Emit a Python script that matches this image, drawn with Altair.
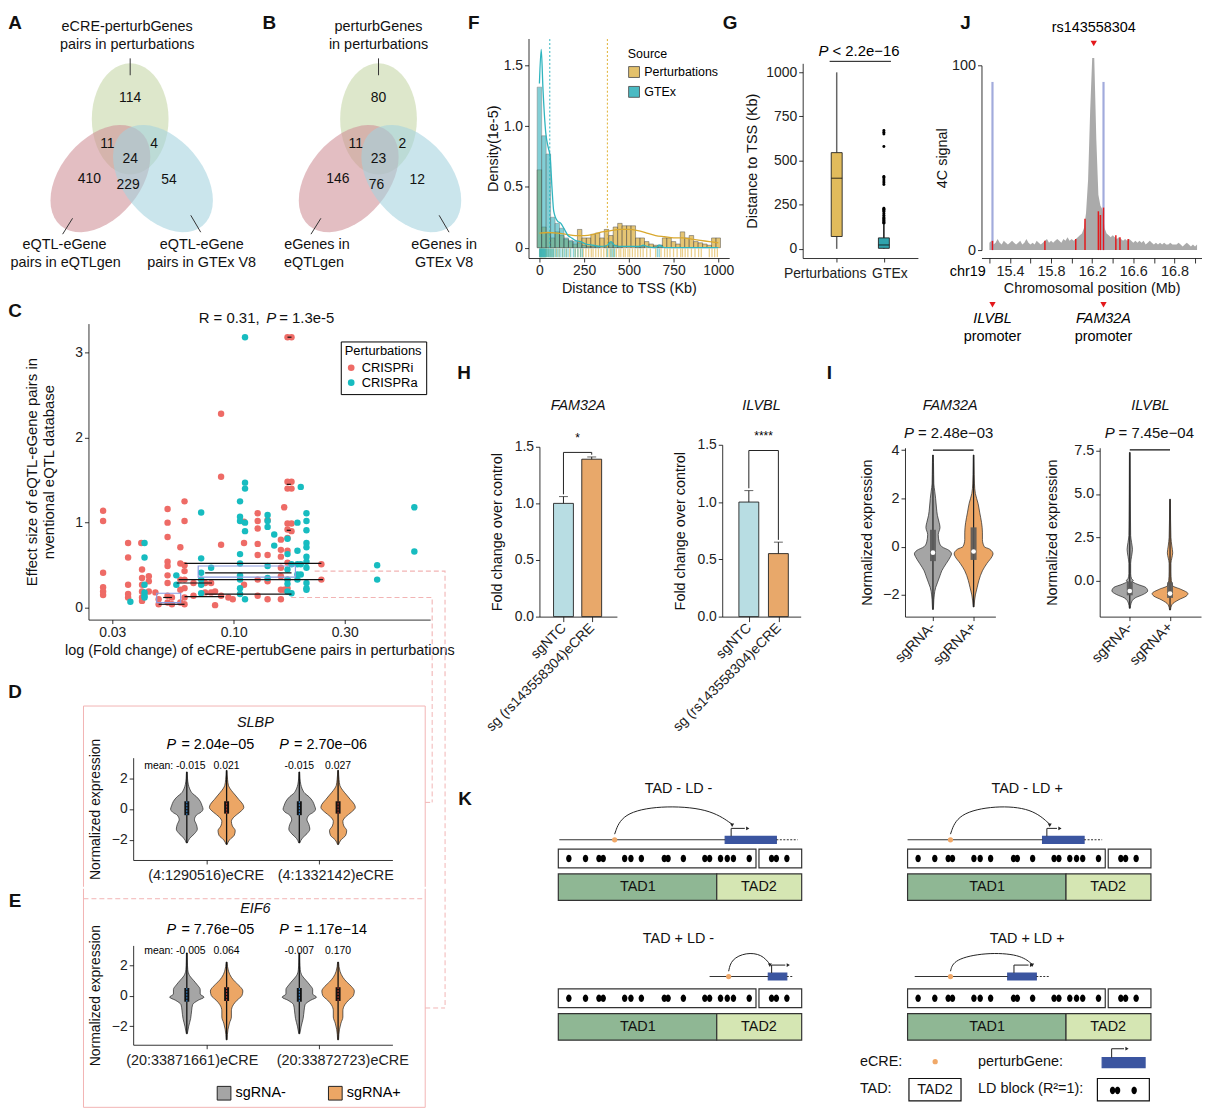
import math
import altair as alt
import pandas as pd

FONT = "Liberation Sans"
NARROW = "Liberation Sans Narrow, Liberation Sans"

# ============================ DATA ============================
VENN_A_COUNTS = ["114", "11", "4", "24", "410", "229", "54"]
VENN_B_COUNTS = ["80", "11", "2", "23", "146", "76", "12"]
VENN_A_LABELS = ["eCRE-perturbGenes", "pairs in perturbations", "eQTL-eGene",
                 "pairs in eQTLgen", "eQTL-eGene", "pairs in GTEx V8"]
VENN_B_LABELS = ["perturbGenes", "in perturbations", "eGenes in", "eQTLgen",
                 "eGenes in", "GTEx V8"]

F_BINS = [0, 25, 50, 75, 100, 125, 150, 175, 200, 225, 250, 275, 300, 325, 350,
          375, 400, 425, 450, 475, 500, 525, 550, 575, 600, 625, 650, 675, 700,
          725, 750, 775, 800, 825, 850, 875, 900, 925, 950, 975, 1000]
F_PERT = [0.64, 0.17, 0.12, 0.08, 0.13, 0.10, 0.07, 0.05, 0.03, 0.15,
          0.08, 0.08, 0.11, 0.12, 0.08, 0.15, 0.10, 0.17, 0.20, 0.18,
          0.18, 0.18, 0.08, 0.08, 0.05, 0.03, 0.02, 0.02, 0.08, 0.08,
          0.05, 0.03, 0.13, 0.08, 0.10, 0.05, 0.04, 0.03, 0.02, 0.08, 0.08]
F_GTEX = [1.32, 0.92, 0.77, 0.25, 0.20, 0.16, 0.08, 0.06, 0.05, 0.04,
          0.02, 0.01, 0.01, 0.01, 0.00, 0.01, 0.04, 0.02, 0.01, 0.00,
          0.00, 0.00, 0.01, 0.01, 0.00, 0.00, 0.01, 0.02, 0.00, 0.00,
          0.00, 0.00, 0.00, 0.00, 0.00, 0.00, 0.00, 0.00, 0.00, 0.00, 0.00]
F_DENS_P_X = [0, 50, 100, 150, 200, 250, 300, 350, 400, 450, 500, 550, 600,
              650, 700, 750, 800, 850, 900, 950, 1000]
F_DENS_P_Y = [0.12, 0.125, 0.12, 0.11, 0.10, 0.10, 0.11, 0.13, 0.14, 0.15, 0.15,
              0.14, 0.12, 0.10, 0.09, 0.08, 0.08, 0.07, 0.06, 0.05, 0.04]
F_DENS_G_X = [0, 10, 20, 35, 50, 60, 70, 80, 100, 120, 140, 160, 180, 200, 230,
              260, 300, 340, 380, 400, 420, 460, 560, 580, 600, 650, 670, 700, 1000]
F_DENS_G_Y = [1.35, 1.63, 1.30, 0.95, 0.82, 0.75, 0.50, 0.30, 0.22, 0.20, 0.15,
              0.10, 0.08, 0.06, 0.05, 0.03, 0.02, 0.01, 0.02, 0.05, 0.02, 0.01,
              0.01, 0.02, 0.01, 0.00, 0.02, 0.00, 0.00]
F_MEDIAN_GTEX = 58
F_MEDIAN_PERT = 380
F_RUG_P = [2, 5, 8, 12, 15, 20, 25, 30, 35, 40, 50, 60, 70, 80, 95, 110, 130, 150,
           170, 200, 215, 230, 245, 260, 275, 290, 300, 315, 330, 345, 360, 375,
           390, 400, 415, 430, 445, 455, 470, 480, 495, 505, 520, 535, 550, 565,
           580, 600, 620, 650, 680, 700, 715, 730, 750, 770, 790, 800, 815, 830,
           850, 870, 890, 905, 950, 965, 980, 995]
F_RUG_G = [1, 3, 5, 8, 10, 12, 15, 18, 20, 22, 25, 28, 30, 33, 36, 40, 45, 50, 55,
           60, 65, 70, 75, 80, 90, 100, 110, 120, 130, 140, 150, 160, 175, 190,
           200, 215, 230, 240, 380, 400, 410, 420, 660, 670]

G_GROUPS = ["Perturbations", "GTEx"]
G_LO = [0, 0]
G_Q1 = [70, 3]
G_MED = [400, 22]
G_Q3 = [545, 62]
G_HI = [1000, 140]
G_OUT = [145, 150, 155, 160, 165, 170, 175, 180, 190, 200, 210, 215, 220, 225,
         230, 365, 375, 385, 395, 405, 410, 580, 650, 660, 670]

J_START = 15.20
J_SIGNAL = [4, 5, 3, 4, 6, 4, 3, 5, 4, 3, 4,
            5, 4, 3, 4, 5, 3, 4, 6, 4, 3,
            4, 3, 5, 4, 3, 4, 5, 6, 4, 5,
            4, 5, 6, 5, 4, 6, 5, 7, 5, 6,
            5, 6, 7, 8, 9,
            12, 20, 38, 75, 104,
            104, 60, 30, 24, 22,
            12, 9, 8, 7, 8,
            7, 6, 7, 6, 5, 6, 5, 6, 5, 4,
            5, 4, 5, 4, 5, 3, 4, 5, 4, 3,
            4, 3, 4, 3, 4, 3, 3, 4, 3, 3,
            3, 4, 3, 2, 3, 4, 3, 2, 3, 2, 3]
J_RED_X = [15.23, 15.74, 16.04, 16.13, 16.26, 16.28, 16.31, 16.43, 16.47, 16.55]
J_RED_H = [5, 5, 6, 17, 21, 19, 23, 8, 7, 6]
J_BLUE_X = [15.23, 16.31]
J_BLUE_H = [91, 91]
J_TICKS = [15.2, 15.4, 15.6, 15.8, 16.0, 16.2, 16.4, 16.6, 16.8, 17.0, 17.2]
J_TICK_LABELS = ["", "15.4", "", "15.8", "", "16.2", "", "16.6", "", "16.8", ""]
J_SNP = ["rs143558304"]
J_SNP_X = [16.215]
J_PROM_GENES = ["ILVBL", "FAM32A"]
J_PROM_X = [15.23, 16.31]

C_I_X = [0.0274, 0.0274, 0.0274, 0.0274, 0.0274, 0.0274,
         0.0351, 0.0351, 0.0351, 0.0351, 0.0351,
         0.0400, 0.0403, 0.0403, 0.0403, 0.0403, 0.0403, 0.0403,
         0.0431, 0.0431, 0.0431,
         0.0460, 0.0475, 0.0475,
         0.0519, 0.0519, 0.0519, 0.0519, 0.0519, 0.0519, 0.0519, 0.0519, 0.0519,
         0.0542, 0.0542,
         0.0589, 0.0589, 0.0589, 0.0589, 0.0589,
         0.0614, 0.0614, 0.0614, 0.0614, 0.0614, 0.0614, 0.0614, 0.0614,
         0.0671, 0.0671, 0.0753, 0.0753, 0.0799, 0.0799, 0.0831, 0.0831,
         0.0882, 0.0882, 0.0882, 0.0882, 0.0948, 0.0990,
         0.1107, 0.1107, 0.1107,
         0.1267, 0.1267, 0.1267, 0.1267, 0.1267, 0.1267, 0.1267,
         0.1398, 0.1398, 0.1398, 0.1398,
         0.1595, 0.1595, 0.1595, 0.1595, 0.1595, 0.1595, 0.1595,
         0.1648, 0.1648,
         0.1703, 0.1703, 0.1703, 0.1703, 0.1703, 0.1703, 0.1703, 0.1703, 0.1703,
         0.1772, 0.1772, 0.1772, 0.1772, 0.1703, 0.1772,
         0.2382, 0.2382]
C_I_Y = [1.14, 1.02, 0.41, 0.24, 0.19, 0.15,
         0.76, 0.59, 0.27, 0.16, 0.12,
         0.76, 0.45, 0.35, 0.27, 0.19, 0.12, 0.08,
         0.37, 0.31, 0.19,
         0.18, 0.04, 0.10,
         1.16, 1.00, 0.83, 0.54, 0.49, 0.38, 0.29, 0.14, 0.06,
         0.04, 0.12,
         0.71, 0.52, 0.33, 0.21, 0.06,
         1.25, 1.02, 0.50, 0.43, 0.33, 0.23, 0.12, 0.04,
         0.14, 0.29, 0.18, 0.29, 0.29, 0.18, 0.03, 0.19,
         2.28, 1.54, 0.74, 0.14, 0.12, 0.10,
         1.01, 0.76, 0.27,
         1.11, 1.02, 0.93, 0.75, 0.62, 0.33, 0.14,
         1.03, 0.62, 0.31, 0.10,
         0.10, 0.21, 0.37, 0.47, 0.60, 0.68, 0.80,
         1.18, 0.21,
         1.48, 1.40, 0.99, 0.92, 0.82, 0.67, 0.53, 0.33, 0.23,
         1.48, 1.40, 0.99, 0.90, 3.18, 3.18,
         0.51, 0.33]
C_A_X = [0.0359,
         0.0413, 0.0413, 0.0413, 0.0413, 0.0413, 0.0413,
         0.0566, 0.0566,
         0.0724, 0.0724, 0.0724, 0.0724, 0.0724, 0.0724,
         0.0799,
         0.1064, 0.1064, 0.1064, 0.1064, 0.1064, 0.1064, 0.1064, 0.1064, 0.1064,
         0.1118, 0.1118, 0.1118, 0.1118, 0.1118, 0.1118,
         0.1398, 0.1398, 0.1398, 0.1398, 0.1398,
         0.1493, 0.1493,
         0.1703, 0.1703, 0.1703, 0.1703, 0.1703, 0.1703,
         0.1772, 0.1772,
         0.1879, 0.1879, 0.1879, 0.1879, 0.1879,
         0.1942, 0.1942, 0.1942,
         0.2055, 0.2055, 0.2055, 0.2055, 0.2055, 0.2055, 0.2055, 0.2055, 0.2055,
         0.2055, 0.2055,
         0.4140, 0.4140,
         0.5984, 0.5984]
C_A_Y = [0.07,
         0.76, 0.59, 0.27, 0.18, 0.14, 0.12,
         0.38, 0.27,
         1.12, 0.58, 0.41, 0.33, 0.27, 0.17,
         0.47,
         1.25, 1.07, 1.02, 0.63, 0.52, 0.38, 0.33, 0.23, 0.16,
         3.18, 1.47, 1.40, 1.00, 0.90, 0.10,
         1.09, 1.02, 0.95, 0.49, 0.35,
         0.86, 0.73,
         0.81, 0.63, 0.45, 0.33, 0.28, 0.19,
         0.51, 0.17,
         1.00, 0.67, 0.51, 0.39, 0.33,
         1.42, 0.51, 0.39,
         1.11, 1.02, 0.91, 0.76, 0.71, 0.60, 0.54, 0.47, 0.29, 0.23, 0.21,
         0.50, 0.33,
         1.18, 0.66]
C_SEG_X1 = [0.0614, 0.0753, 0.0579, 0.0568, 0.0753, 0.0614, 0.0497, 0.0475, 0.1703, 0.1690, 0.1690]
C_SEG_X2 = [0.2382, 0.1772, 0.2420, 0.0806, 0.1772, 0.0909, 0.0542, 0.0614, 0.1772, 0.1760, 0.1760]
C_SEG_Y = [0.52, 0.41, 0.33, 0.29, 0.16, 0.13, 0.12, 0.04, 3.18, 1.45, 0.91]
C_BOX_X1 = [0.0703, 0.0466]
C_BOX_X2 = [0.1842, 0.0591]
C_BOX_Y1 = [0.36, 0.06]
C_BOX_Y2 = [0.49, 0.17]
C_LINK_X = [[0.2228, 0.811, 0.811], [0.1767, 0.714, 0.714]]
C_LINK_Y = [[0.43, 0.43, -0.806], [0.12, 0.12, -0.806]]

H_GENES = ["FAM32A", "ILVBL"]
H_XLABELS = ["sgNTC", "sg (rs143558304)eCRE"]
H_MEAN = [[1.00, 1.39], [1.00, 0.55]]
H_ERR = [[0.06, 0.02], [0.10, 0.10]]
H_SIG = ["*", "****"]

I_GENES = ["FAM32A", "ILVBL"]
I_PVALS = ["= 2.48e\u221203", "= 7.45e\u221204"]
I_FAM_Y = [[-2.6, -2.2, -2.0, -1.7, -1.5, -1.2, -1.0, -0.7, -0.4, -0.3, -0.15, 0.0, 0.2,
            0.5, 0.8, 1.0, 1.3, 1.6, 2.0, 2.3, 2.6, 3.0, 3.5, 3.8],
           [-2.5, -2.0, -1.7, -1.4, -1.0, -0.7, -0.4, -0.3, -0.1, 0.0, 0.3, 0.6, 1.0,
            1.4, 1.8, 2.2, 2.6, 3.0, 3.8]]
I_FAM_W = [[0.5, 1, 1.5, 3, 5, 8, 10, 15, 20, 21, 18, 10, 7, 6, 8, 7, 5, 4, 3, 2, 1, 0.8, 0.6, 0.4],
           [0.5, 2, 4, 6, 10, 15, 21, 22, 18, 12, 10, 10, 9, 7, 5, 2, 1, 0.7, 0.4]]
I_FAM_BOX = [[-0.6, 0.7, -0.25], [-0.55, 0.8, -0.2]]
I_ILV_Y = [[-1.6, -1.3, -1.0, -0.8, -0.6, -0.4, -0.2, -0.05, 0.0, 0.1, 0.4, 1.0, 1.4,
            1.8, 2.2, 2.6, 3.5, 5.0, 7.4],
           [-1.7, -1.4, -1.1, -0.9, -0.75, -0.5, -0.3, 0.0, 0.5, 1.0, 1.3, 1.6, 2.0,
            2.5, 3.5, 4.7]]
I_ILV_W = [[0.5, 1.5, 6, 15, 20, 18, 8, 3, 4, 2, 1, 1, 2, 3, 2, 1, 0.8, 0.6, 0.4],
           [0.5, 2, 10, 18, 20, 12, 3, 1.5, 1, 1, 2, 3, 2, 1, 0.6, 0.4]]
I_ILV_BOX = [[-0.85, -0.05, -0.6], [-1.0, -0.1, -0.75]]

DE_CONDS = ["sgRNA-", "sgRNA+", "sgRNA-", "sgRNA+"]
D_GENE = "SLBP"
D_LABELS = ["(4:1290516)eCRE", "(4:1332142)eCRE"]
D_PVALS = ["= 2.04e\u221205", "= 2.70e\u221206"]
D_MEANS = ["mean: -0.015", "0.021", "-0.015", "0.027"]
D_Y = [[-2.2, -1.9, -1.6, -1.3, -1.0, -0.7, -0.4, -0.2, 0.0, 0.2, 0.5, 0.8, 1.0, 1.3, 1.6, 2.0, 2.4],
       [-2.3, -2.0, -1.7, -1.4, -1.1, -0.8, -0.5, -0.2, 0.1, 0.3, 0.6, 0.9, 1.2, 1.5, 1.9, 2.5]]
D_W = [[0.5, 3, 8, 11, 10, 8, 10, 15, 17, 16, 14, 10, 6, 3, 1.5, 0.7, 0.4],
       [0.5, 3, 8, 9, 6, 5, 8, 14, 18, 17, 13, 9, 5, 2, 1, 0.4]]
D_BOX = [[-0.4, 0.5], [-0.3, 0.5]]
E_GENE = "EIF6"
E_LABELS = ["(20:33871661)eCRE", "(20:33872723)eCRE"]
E_PVALS = ["= 7.76e\u221205", "= 1.17e\u221214"]
E_MEANS = ["mean: -0.005", "0.064", "-0.007", "0.170"]
E_Y = [[-2.5, -2.0, -1.5, -1.0, -0.6, -0.3, -0.1, 0.1, 0.4, 0.7, 1.0, 1.3, 1.7, 2.2, 2.8],
       [-2.9, -2.2, -1.8, -1.4, -1.0, -0.6, -0.3, 0.0, 0.3, 0.6, 0.9, 1.2, 1.6, 2.2]]
E_W = [[0.5, 2, 4, 5, 6, 12, 18, 14, 14, 11, 7, 3, 1, 0.6, 0.4],
       [0.5, 1.5, 3, 5, 5, 7, 11, 16, 17, 14, 9, 5, 2, 0.5]]
E_BOX = [[-0.4, 0.5], [-0.35, 0.55]]

K_TITLES = ["TAD -  LD -", "TAD -  LD +", "TAD + LD -", "TAD +  LD +"]
K_TITLE_X = [674, 1025, 674, 1025]
K_TITLE_Y = [791, 791, 942, 942]
K_X0 = [553, 904.6, 553, 904.6]
K_LINE_Y = [841.7, 841.7, 979.3, 979.3]
K_LD_TOP = [851, 851, 991.7, 991.7]
K_TAD_TOP = [876, 876, 1016.7, 1016.7]
K_LD_DOTS = [10.6, 27.4, 40.9, 45.2, 66.8, 73.1, 83.6, 106.7, 110.5, 125.9, 147.5,
             152.3, 163.3, 170.1, 176.3, 192.2, 214.7, 219.5, 230.1]
K_LINE_X0 = [554, 904.6, 705.3, 911.8]
K_LINE_X1 = [794, 1100.5, 789, 1047.7]
K_ECRE_X = [609.7, 947.8, 724.5, 947.8]
K_GENE_X0 = [721, 1040.5, 764.4, 1005.4]
K_GENE_X1 = [772.5, 1082.3, 783, 1034.2]
K_PROM_X0 = [727, 1044.8, 767.7, 1011.7]
K_PROM_X1 = [743.7, 1058, 784.5, 1029.4]
K_ARC_X = [[609.7, 617, 655, 705, 728], [947.8, 955, 993, 1030, 1047.7],
           [724.5, 727, 742, 758, 766], [947.8, 951, 983, 1018, 1030]]
K_ARC_Y = [[836, 815, 807, 810, 826], [836, 815, 807, 810, 826],
           [974, 962, 955, 957, 967], [974, 962, 955, 957, 967]]

# ============================ STYLE ============================
GOLD = "#e1bb5c"
TEAL = "#37b3bd"
C_RED = "#ee6b66"
C_TEAL = "#17bcc0"
V_GREY = "#a5a5a5"
V_ORANGE = "#eca665"
H_BLUE = "#b8dde3"
H_ORANGE = "#e8a86a"
VENN_COLS = ["#c4d6a6", "#cf8f96", "#a3d3de"]
TAD1_COL = "#8fb794"
TAD2_COL = "#d5e6b3"
GENE_COL = "#3b55a0"
ECRE_COL = "#f0a868"
PINK = "#f2b4b4"


def ellipse_path(ratio, angle_deg, n=48):
    th = math.radians(angle_deg)
    pts = []
    for i in range(n):
        t = 2 * math.pi * i / n
        x, y = math.cos(t), ratio * math.sin(t)
        pts.append(f"{x * math.cos(th) - y * math.sin(th):.4f},{x * math.sin(th) + y * math.cos(th):.4f}")
    return "M" + " L".join(pts) + " Z"


ONE = pd.DataFrame({"a": [0]})


def ax(**kw):
    d = dict(domainColor="#000000", domainWidth=0.8, tickColor="#000000", tickWidth=0.8,
             tickSize=4, labelFont=FONT, labelFontSize=13, labelColor="#222222",
             titleFont=FONT, titleFontSize=14, titleFontWeight="normal", titleColor="#111111",
             grid=False, labelPadding=2)
    d.update(kw)
    return alt.Axis(**d)


def qs(lo, hi, rng, **kw):
    return alt.Scale(domain=[lo, hi], range=list(rng), nice=False, zero=False, **kw)


def T(text, x, y, size=13, weight="normal", style="normal", align="center",
      font=FONT, color="#111111"):
    return alt.Chart(ONE).mark_text(text=text, x=x, y=y, fontSize=size, fontWeight=weight,
                                    fontStyle=style, align=align, font=font,
                                    color=color).encode(opacity=alt.value(1))


def frame(w, h):
    """Invisible rectangle = the panel's cell; the view origin is its top-left corner."""
    return alt.Chart(ONE).mark_rect(opacity=0).encode(
        x=alt.value(0), x2=alt.value(w), y=alt.value(0), y2=alt.value(h))


def prule(x, x2, y, y2, dash=None):
    kw = dict(color=PINK, strokeWidth=1)
    if dash:
        kw["strokeDash"] = dash
    return alt.Chart(ONE).mark_rule(**kw).encode(
        x=alt.value(x), x2=alt.value(x2), y=alt.value(y), y2=alt.value(y2))


RES = dict(color="independent", fill="independent", stroke="independent", size="independent")


def HC(*c):
    return alt.hconcat(*c, spacing=0).resolve_scale(**RES)


def VC(*c):
    return alt.vconcat(*c, spacing=0).resolve_scale(**RES)


def expr_map(values, labels):
    parts = [f"abs(datum.value - {v}) < 0.001 ? '{l}'" for v, l in zip(values, labels)]
    return " : ".join(parts) + " : ''"


# ============================ A / B ============================
VENN_CNT_X = [123, 100, 147, 123, 82, 121, 162]
VENN_CNT_Y = [87, 133, 133, 148, 168, 175, 169]
VENN_ELL_X = [123, 93, 156]
VENN_ELL_Y = [108, 168, 168]
VENN_ELL_LEN = [112, 124, 124]
VENN_ELL_RATIO = [0.69, 0.645, 0.645]
VENN_ELL_ANG = [90, 310, 50]
VENN_LAB_Y = [15, 34, 235, 253, 235, 253]
VENN_LEAD = [(123, 47, 123, 64), (65, 208, 55, 224), (184, 205, 194, 222)]


def venn_panel(letter, letter_x, counts, labels, lab_x, fw, extra=()):
    fh = 292
    xs = qs(0, fw, (0, fw))
    ys = qs(0, fh, (0, fh))
    X = lambda f: alt.X(f + ":Q", scale=xs, axis=None)
    Y = lambda f: alt.Y(f + ":Q", scale=ys, axis=None)
    ells = []
    for i in range(3):
        d = pd.DataFrame({"x": [VENN_ELL_X[i]], "y": [VENN_ELL_Y[i]]})
        ells.append(alt.Chart(d).mark_point(
            shape=ellipse_path(VENN_ELL_RATIO[i], VENN_ELL_ANG[i]), filled=True, opacity=0.58,
            strokeWidth=0, color=VENN_COLS[i], size=VENN_ELL_LEN[i] ** 2).encode(x=X("x"), y=Y("y")))
    cnt = pd.DataFrame({"x": VENN_CNT_X, "y": VENN_CNT_Y, "t": counts})
    c = alt.Chart(cnt).mark_text(font=FONT, fontSize=14, color="#111111").encode(
        x=X("x"), y=Y("y"), text="t:N")
    lab = pd.DataFrame({"x": lab_x, "y": VENN_LAB_Y, "t": labels})
    l = alt.Chart(lab).mark_text(font=FONT, fontSize=14.5, color="#111111").encode(
        x=X("x"), y=Y("y"), text="t:N")
    lead = pd.DataFrame(VENN_LEAD, columns=["x", "y", "x2", "y2"])
    r = alt.Chart(lead).mark_rule(color="#333333", strokeWidth=1).encode(
        x=X("x"), y=Y("y"), x2="x2", y2="y2")
    return alt.layer(frame(fw, fh), *ells, r, c, l,
                     T(letter, letter_x, 11, size=19, weight="bold"), *extra).properties(
        width=fw, height=fh)


panelA = venn_panel("A", 7, VENN_A_COUNTS, VENN_A_LABELS, [120, 120, 57, 58, 195, 195], 241)
panelB = venn_panel("B", 13, VENN_B_COUNTS, VENN_B_LABELS, [123, 123, 61, 58, 189, 189], 226,
                    extra=(T("F", 219, 11, size=19, weight="bold"),))

# ============================ F ============================ (L48 T27 W202 H221, cell 260x344)
fxs = qs(-61, 1061, (48, 250))
fys = qs(-0.085, 1.72, (248, 27))
FXA = ax(values=[0, 250, 500, 750, 1000], format="d", title="Distance to TSS (Kb)", labelFontSize=14,
         titleFontSize=14.5, titlePadding=4, offset=-96)
FYA = ax(values=[0, 0.5, 1, 1.5], labelExpr="datum.value == 0 ? '0' : format(datum.value, '.1f')",
         title="Density(1e-5)", labelFontSize=14, titleFontSize=14.5, titlePadding=3, offset=-48)
FX = lambda f: alt.X(f + ":Q", scale=fxs, axis=FXA)
FY = lambda f: alt.Y(f + ":Q", scale=fys, axis=FYA)
src_scale = alt.Scale(domain=["Perturbations", "GTEx"], range=[GOLD, TEAL])
f_leg = alt.Legend(title="Source", orient="none", legendX=148, legendY=37, symbolType="square",
                   symbolSize=120, symbolStrokeColor="#333333", symbolStrokeWidth=0.8,
                   labelFont=FONT, titleFont=FONT, labelFontSize=12.5, titleFontSize=12.5,
                   titleFontWeight="normal", rowPadding=5, symbolOpacity=0.9, titlePadding=5)


def f_bars(vals, src, op):
    df = pd.DataFrame({"c": F_BINS, "h": vals, "src": [src] * len(F_BINS)})
    return alt.Chart(df).transform_filter("datum.h > 0").transform_calculate(
        x0="datum.c - 12.5", x1="datum.c + 12.5", b="0").mark_bar(
        stroke="#333333", strokeWidth=0.5, opacity=op).encode(
        x=FX("x0"), x2="x1", y=FY("b"), y2="h",
        color=alt.Color("src:N", scale=src_scale, legend=f_leg))


def f_line(xv, yv, col):
    return alt.Chart(pd.DataFrame({"x": xv, "y": yv})).mark_line(
        color=col, strokeWidth=1.3, interpolate="monotone").encode(x=FX("x"), y=FY("y"))


def f_vline(xv, col):
    return alt.Chart(pd.DataFrame({"x": [xv]})).transform_calculate(y0="0", y1="1.72").mark_rule(
        color=col, strokeDash=[2, 2], strokeWidth=1).encode(x=FX("x"), y=FY("y0"), y2="y1")


def f_rug(xv, col):
    return alt.Chart(pd.DataFrame({"x": xv})).transform_calculate(
        r0="-0.078", r1="-0.006").mark_rule(color=col, strokeWidth=1.3, opacity=0.55).encode(
        x=FX("x"), y=FY("r0"), y2="r1")


panelF = alt.layer(
    frame(260, 344),
    f_bars(F_PERT, "Perturbations", 0.85), f_bars(F_GTEX, "GTEx", 0.62),
    f_line(F_DENS_P_X, F_DENS_P_Y, "#d9a82e"), f_line(F_DENS_G_X, F_DENS_G_Y, "#2fb5bf"),
    f_vline(F_MEDIAN_GTEX, "#2fb5bf"), f_vline(F_MEDIAN_PERT, "#e0b030"),
    f_rug(F_RUG_P, "#d9a82e"), f_rug(F_RUG_G, "#2fb5bf"),
    T("G", 251, 11, size=19, weight="bold")
).properties(width=260, height=344)

# ============================ G ============================ (L64 T52 W116 H196, cell 190x344)
gxs = qs(0.384, 2.616, (64, 180))
gys = qs(-52, 1051, (248, 52))
GXA = ax(values=[1, 2], labels=False, title=None, offset=-96)
GYA = ax(values=[0, 250, 500, 750, 1000], format="d", title="Distance to TSS (Kb)", labelFontSize=14,
         titleFontSize=14.5, titlePadding=6, offset=-64)
GX = lambda f: alt.X(f + ":Q", scale=gxs, axis=GXA)
GY = lambda f: alt.Y(f + ":Q", scale=gys, axis=GYA)
gdf = pd.DataFrame({"x": [1, 2], "lo": G_LO, "q1": G_Q1, "med": G_MED, "q3": G_Q3, "hi": G_HI,
                    "col": [GOLD, "#2fa3ad"], "wc": ["#666666", "#111111"]})
g_w1 = alt.Chart(gdf).mark_rule(strokeWidth=1.5).encode(
    x=GX("x"), y=GY("lo"), y2="q1", color=alt.Color("wc:N", scale=None))
g_w2 = alt.Chart(gdf).mark_rule(strokeWidth=1.5).encode(
    x=GX("x"), y=GY("q3"), y2="hi", color=alt.Color("wc:N", scale=None))
g_box = alt.Chart(gdf).mark_bar(size=11, stroke="#222222", strokeWidth=0.9).encode(
    x=GX("x"), y=GY("q1"), y2="q3", fill=alt.Fill("col:N", scale=None))
g_med = alt.Chart(gdf).mark_tick(orient="horizontal", size=11, thickness=1.2, color="#111111").encode(
    x=GX("x"), y=GY("med"))
g_out = alt.Chart(pd.DataFrame({"x": [2] * len(G_OUT), "y": G_OUT})).mark_circle(
    size=9, color="#000000", opacity=1).encode(x=GX("x"), y=GY("y"))
g_line = alt.Chart(pd.DataFrame({"x": [0.85], "x2": [2.15]})).mark_rule(
    color="#111111", strokeWidth=1).encode(x=GX("x"), x2="x2", y=alt.value(50))
g_p = alt.Chart(pd.DataFrame({"x": [1.5]})).mark_text(
    text="P", fontStyle="italic", align="left", dx=-42, fontSize=15, font=FONT).encode(
    x=GX("x"), y=alt.value(40))
g_p2 = alt.Chart(pd.DataFrame({"x": [1.5], "t": ["< 2.2e\u221216"]})).mark_text(
    align="left", dx=-28, fontSize=15, font=FONT).encode(x=GX("x"), y=alt.value(40), text="t:N")
g_lab1 = alt.Chart(pd.DataFrame({"x": [1], "t": [G_GROUPS[0]]})).mark_text(
    align="right", dx=30, fontSize=14, font=FONT, color="#222222").encode(
    x=GX("x"), y=alt.value(264), text="t:N")
g_lab2 = alt.Chart(pd.DataFrame({"x": [2], "t": [G_GROUPS[1]]})).mark_text(
    align="center", dx=6, fontSize=14, font=FONT, color="#222222").encode(
    x=GX("x"), y=alt.value(264), text="t:N")
panelG = alt.layer(frame(190, 344), g_w1, g_w2, g_box, g_med, g_out, g_line, g_p,
                   g_p2, g_lab1, g_lab2).properties(width=190, height=344)

# ============================ J ============================ (L54 T54 W222, 0..100 -> y 240..54)
jxs = qs(15.123, 17.268, (54, 276))
jys = qs(0, 100, (240, 54))
JXA = ax(values=J_TICKS, labelExpr=expr_map(J_TICKS, J_TICK_LABELS),
         title="Chromosomal position (Mb)", labelFontSize=14.5, titleFontSize=14.5,
         tickSize=5, titlePadding=3, offset=-96)
JYA = ax(values=[0, 100], title="4C signal", labelFontSize=14.5, titleFontSize=14.5, titlePadding=2,
         offset=-54)
JX = lambda f: alt.X(f + ":Q", scale=jxs, axis=JXA)
JY = lambda f: alt.Y(f + ":Q", scale=jys, axis=JYA)
jdf = pd.DataFrame({"i": list(range(len(J_SIGNAL))), "y": J_SIGNAL})
j_area = alt.Chart(jdf).transform_calculate(
    x=f"{J_START} + 0.02 * datum.i", b="0").mark_area(color="#aaaaaa", opacity=1).encode(
    x=JX("x"), y=JY("y"), y2="b")
j_blue = alt.Chart(pd.DataFrame({"x": J_BLUE_X, "h": J_BLUE_H})).transform_calculate(b="0").mark_rule(
    color="#98a2d8", strokeWidth=2.2, opacity=0.9).encode(x=JX("x"), y=JY("b"), y2="h")
j_red = alt.Chart(pd.DataFrame({"x": J_RED_X, "h": J_RED_H})).transform_calculate(b="0").mark_rule(
    color="#e3191c", strokeWidth=1.5).encode(x=JX("x"), y=JY("b"), y2="h")
j_tri1 = alt.Chart(pd.DataFrame({"x": J_SNP_X})).mark_point(
    shape="triangle-down", filled=True, color="#e3191c", size=40, opacity=1).encode(
    x=JX("x"), y=alt.value(32))
j_snp = alt.Chart(pd.DataFrame({"x": J_SNP_X, "t": J_SNP})).mark_text(
    fontSize=14.5, font=FONT).encode(x=JX("x"), y=alt.value(16), text="t:N")
j_tri2 = alt.Chart(pd.DataFrame({"x": J_PROM_X})).mark_point(
    shape="triangle-down", filled=True, color="#e3191c", size=40, opacity=1).encode(
    x=JX("x"), y=alt.value(295))
j_gene = alt.Chart(pd.DataFrame({"x": J_PROM_X, "t": J_PROM_GENES})).mark_text(
    fontSize=14.5, font=FONT, fontStyle="italic").encode(x=JX("x"), y=alt.value(309), text="t:N")
j_prom = alt.Chart(pd.DataFrame({"x": J_PROM_X, "t": ["promoter", "promoter"]})).mark_text(
    fontSize=14.5, font=FONT).encode(x=JX("x"), y=alt.value(328), text="t:N")
j_chr = alt.Chart(pd.DataFrame({"x": [14.99], "t": ["chr19"]})).mark_text(
    fontSize=14.5, font=FONT).encode(x=JX("x"), y=alt.value(262), text="t:N")
panelJ = alt.layer(frame(276, 344), j_area, j_blue, j_red, j_tri1, j_snp, j_tri2,
                   j_gene, j_prom, j_chr,
                   T("J", 38, 11, size=19, weight="bold")).properties(width=276, height=344)

# ============================ C ============================ (L81 T22 W344 H298, cell 467x377)
cxs = alt.Scale(type="log", domain=[0.0237, 0.70], range=[81, 425], nice=False)
cys = qs(-0.14, 3.34, (320, 22))
CXA = ax(values=[0.03, 0.1, 0.3], labelExpr="format(datum.value, '.2f')",
         title="log (Fold change) of eCRE-pertubGene pairs in perturbations",
         labelFontSize=14, titleFontSize=14.5, titlePadding=4, offset=-57)
CYA = ax(values=[0, 1, 2, 3], title=["Effect size of eQTL-eGene pairs in", "nventional eQTL database"],
         labelFontSize=14, titleFontSize=15, titlePadding=18, titleLineHeight=18, offset=-81)
CX = lambda f: alt.X(f + ":Q", scale=cxs, axis=CXA)
CY = lambda f: alt.Y(f + ":Q", scale=cys, axis=CYA)
cdf = pd.DataFrame({"x": C_I_X + C_A_X, "y": C_I_Y + C_A_Y,
                    "type": ["CRISPRi"] * len(C_I_X) + ["CRISPRa"] * len(C_A_X)})
c_leg = alt.Legend(title="Perturbations", orient="none", legendX=335, legendY=40,
                   strokeColor="#000000", padding=4, symbolType="circle", symbolSize=45,
                   labelFontSize=13, titleFontSize=13, titleFontWeight="normal", labelFont=FONT,
                   titleFont=FONT, rowPadding=1, fillColor="#ffffff", symbolOpacity=1,
                   titlePadding=3)
c_pts = alt.Chart(cdf).mark_circle(size=42, opacity=1).encode(
    x=CX("x"), y=CY("y"),
    color=alt.Color("type:N", scale=alt.Scale(domain=["CRISPRi", "CRISPRa"], range=[C_RED, C_TEAL]),
                    legend=c_leg))
c_seg = alt.Chart(pd.DataFrame({"x": C_SEG_X1, "x2": C_SEG_X2, "y": C_SEG_Y})).mark_rule(
    color="#111111", strokeWidth=1.2).encode(x=CX("x"), x2="x2", y=CY("y"))
c_box = alt.Chart(pd.DataFrame({"x": C_BOX_X1, "x2": C_BOX_X2, "y": C_BOX_Y1, "y2": C_BOX_Y2})).mark_rect(
    fillOpacity=0, stroke="#8a9be0", strokeWidth=1.2).encode(x=CX("x"), x2="x2", y=CY("y"), y2="y2")
link_rows = []
for k, (lx, ly) in enumerate(zip(C_LINK_X, C_LINK_Y)):
    for o, (xv, yv) in enumerate(zip(lx, ly)):
        link_rows.append({"id": k, "o": o, "x": xv, "y": yv})
c_link = alt.Chart(pd.DataFrame(link_rows)).mark_line(
    color=PINK, strokeDash=[5, 3], strokeWidth=1.1).encode(
    x=CX("x"), y=CY("y"), detail="id:N", order="o:Q")
panelC = alt.layer(frame(467, 377), c_link, c_pts, c_seg, c_box,
                   T("R = 0.31,", 192, 16, size=15, align="left"),
                   T("P", 260, 16, size=15, style="italic", align="left"),
                   T("= 1.3e-5", 273, 16, size=15, align="left"),
                   T("C", 7, 9, size=19, weight="bold"),
                   T("H", 459, 72, size=19, weight="bold")).properties(width=467, height=377)


# ============================ H ============================
def h_panel(k, L, Tp, w, h, fw, fh, xdom, top_off):
    xs = qs(xdom[0], xdom[1], (L, L + w))
    ys = qs(0, 1.5, (Tp + h, Tp))
    XA = ax(values=[1, 2], labelExpr=f"datum.value == 1 ? '{H_XLABELS[0]}' : '{H_XLABELS[1]}'",
            labelAngle=315, labelAlign="right", labelBaseline="middle", title=None,
            labelFontSize=14, tickSize=5, labelPadding=4, offset=Tp + h - fh)
    YA = ax(values=[0, 0.5, 1.0, 1.5], format=".1f", title="Fold change over control",
            labelFontSize=14, titleFontSize=14.5, titlePadding=10, offset=-L)
    X = lambda f: alt.X(f + ":Q", scale=xs, axis=XA)
    Y = lambda f: alt.Y(f + ":Q", scale=ys, axis=YA)
    df = pd.DataFrame({"x": [1, 2], "v": H_MEAN[k], "e": H_ERR[k], "col": [H_BLUE, H_ORANGE]})
    bars = alt.Chart(df).transform_calculate(b="0").mark_bar(
        size=20, stroke="#222222", strokeWidth=0.9).encode(
        x=X("x"), y=Y("b"), y2="v", fill=alt.Fill("col:N", scale=None))
    err = alt.Chart(df).transform_calculate(t="datum.v + datum.e").mark_rule(
        color="#222222", strokeWidth=1).encode(x=X("x"), y=Y("v"), y2="t")
    cap = alt.Chart(df).transform_calculate(t="datum.v + datum.e").mark_tick(
        orient="horizontal", size=9, thickness=1, color="#222222").encode(x=X("x"), y=Y("t"))
    tops = [H_MEAN[k][i] + H_ERR[k][i] + 0.02 for i in range(2)]
    br_y = 1.45
    br = pd.DataFrame({"x": [1, 1, 2], "x2": [2, 1, 2], "y": [br_y, tops[0], tops[1]],
                       "y2": [br_y, br_y, br_y]})
    brk = alt.Chart(br).mark_rule(color="#222222", strokeWidth=1).encode(
        x=X("x"), x2="x2", y=Y("y"), y2="y2")
    star = alt.Chart(pd.DataFrame({"x": [1.5], "y": [1.58], "t": [H_SIG[k]]})).mark_text(
        fontSize=12, font=FONT).encode(x=X("x"), y=Y("y"), text="t:N")
    layers = [frame(fw, fh), bars, err, cap, brk, star,
              T(H_GENES[k], L + w / 2, Tp + top_off, size=14.5, style="italic")]
    return alt.layer(*layers).properties(width=fw, height=fh)


panelH1 = h_panel(0, 59, 94, 78, 171, 185, 424, (0.325, 2.717), -41)
panelH2 = h_panel(1, 58, 92, 79, 173, 158, 424, (0.267, 2.587), -39)


# ============================ I ============================
def i_panel(k, L, Tp, w, h, fw, fh, xdom, ydom, yvals, yfmt, ppu, vy, vw, boxes, line_y, pdx, ypad,
            letter=None):
    xs = qs(xdom[0], xdom[1], (L, L + w))
    ys = qs(ydom[0], ydom[1], (Tp + h, Tp))
    XA = ax(values=[1, 2], labelExpr="datum.value == 1 ? 'sgRNA-' : 'sgRNA+'", labelAngle=315,
            labelAlign="right", labelBaseline="middle", title=None, labelFontSize=14.5,
            tickSize=4, labelPadding=4, offset=Tp + h - fh)
    YA = ax(values=yvals, format=yfmt, title="Normalized expression", labelFontSize=14.5,
            titleFontSize=14.5, titlePadding=ypad, offset=-L)
    X = lambda f: alt.X(f + ":Q", scale=xs, axis=XA, stack=None)
    Y = lambda f: alt.Y(f + ":Q", scale=ys, axis=YA)
    rows = []
    for g in range(2):
        for yv, wv in zip(vy[g], vw[g]):
            rows.append({"g": g, "c": g + 1, "y": yv, "w": wv, "col": [V_GREY, V_ORANGE][g]})
    vdf = pd.DataFrame(rows)
    vio = alt.Chart(vdf).transform_calculate(
        xl=f"datum.c - datum.w / {ppu}", xr=f"datum.c + datum.w / {ppu}").mark_area(
        orient="horizontal", stroke="#222222", strokeWidth=0.7, interpolate="monotone").encode(
        y=Y("y"), x=X("xl"), x2="xr", detail="g:N", fill=alt.Fill("col:N", scale=None))
    ldf = pd.DataFrame({"x": [1, 2], "lo": [min(vy[0]), min(vy[1])], "hi": [max(vy[0]), max(vy[1])]})
    stem = alt.Chart(ldf).mark_rule(color="#222222", strokeWidth=1.2).encode(
        x=X("x"), y=Y("lo"), y2="hi")
    bdf = pd.DataFrame({"x": [1, 2], "q1": [boxes[0][0], boxes[1][0]], "q3": [boxes[0][1], boxes[1][1]],
                        "m": [boxes[0][2], boxes[1][2]]})
    box = alt.Chart(bdf).mark_bar(size=6, color="#5a5a5a", opacity=0.9).encode(
        x=X("x"), y=Y("q1"), y2="q3")
    med = alt.Chart(bdf).mark_circle(size=22, color="#ffffff", opacity=1).encode(x=X("x"), y=Y("m"))
    pl = alt.Chart(pd.DataFrame({"x": [1], "x2": [2], "y": [line_y]})).mark_rule(
        color="#111111", strokeWidth=1.1).encode(x=X("x"), x2="x2", y=Y("y"))
    layers = [frame(fw, fh), vio, stem, box, med, pl,
              T(I_GENES[k], L + w / 2, Tp - 42, size=14.5, style="italic"),
              T("P", L + pdx[0], Tp - 15, size=15, style="italic", align="left"),
              T(I_PVALS[k], L + pdx[1], Tp - 15, size=15, align="left")]
    if letter:
        layers.append(T(letter, 8, 20, size=19, weight="bold"))
    return alt.layer(*layers).properties(width=fw, height=fh)


panelI1 = i_panel(0, 84, 95, 91, 170, 217, 424, (0.434, 2.414), (-2.9, 4.1), [-2, 0, 2, 4], "d", 46,
                  I_FAM_Y, I_FAM_W, I_FAM_BOX, 4.0, (-1, 13), 8, "I")
panelI2 = i_panel(1, 63, 95, 102, 170, 166, 424, (0.376, 2.646), (-2.08, 7.67), [0, 2.5, 5, 7.5], ".1f", 45,
                  I_ILV_Y, I_ILV_W, I_ILV_BOX, 7.55, (5, 19), 14)

# ============================ D / E ============================
DE_CENTERS = [0.828, 1.181, 1.826, 2.170]


def de_panel(letter, Tp, fh, gene, gene_y, p_texts, p_y, means, mean_y, glabels, lab_dx, ydom, h,
             vy, vw, boxes, legend, deco):
    L, w, fw = 126, 261, 467
    xs = qs(0.396, 2.608, (L, L + w))
    ys = qs(ydom[0], ydom[1], (Tp + h, Tp))
    XA = ax(values=[1, 2], labels=False, title=None, offset=Tp + h - fh)
    YA = ax(values=[-2, 0, 2], format="d", title="Normalized expression", labelFontSize=14,
            titleFontSize=14, titlePadding=9, offset=-L)
    X = lambda f: alt.X(f + ":Q", scale=xs, axis=XA, stack=None)
    Y = lambda f: alt.Y(f + ":Q", scale=ys, axis=YA)
    rows = []
    for g, c in enumerate(DE_CENTERS):
        for yv, wv in zip(vy[g % 2], vw[g % 2]):
            rows.append({"g": g, "c": c, "y": yv, "w": wv, "cond": DE_CONDS[g]})
    vdf = pd.DataFrame(rows)
    fill_scale = alt.Scale(domain=["sgRNA-", "sgRNA+"], range=[V_GREY, V_ORANGE])
    if legend:
        leg = alt.Legend(title=None, orient="none", legendX=210, legendY=Tp + 141, direction="horizontal",
                         symbolType="square", symbolSize=190, symbolStrokeColor="#222222",
                         symbolStrokeWidth=1, labelFontSize=14.5, labelFont=FONT,
                         columnPadding=40, symbolOpacity=1)
    else:
        leg = None
    vio = alt.Chart(vdf).transform_calculate(
        xl="datum.c - datum.w / 118", xr="datum.c + datum.w / 118").mark_area(
        orient="horizontal", stroke="#222222", strokeWidth=0.7, interpolate="monotone").encode(
        y=Y("y"), x=X("xl"), x2="xr", detail="g:N",
        fill=alt.Fill("cond:N", scale=fill_scale, legend=leg))
    ldf = pd.DataFrame({"x": DE_CENTERS,
                        "lo": [min(vy[g % 2]) for g in range(4)],
                        "hi": [max(vy[g % 2]) for g in range(4)],
                        "q1": [boxes[g % 2][0] for g in range(4)],
                        "q3": [boxes[g % 2][1] for g in range(4)],
                        "ic": ["#3d8fd8", "#c0392b", "#3d8fd8", "#c0392b"]})
    stem = alt.Chart(ldf).mark_rule(color="#111111", strokeWidth=1.3).encode(
        x=X("x"), y=Y("lo"), y2="hi")
    box = alt.Chart(ldf).mark_bar(size=5, color="#111111").encode(x=X("x"), y=Y("q1"), y2="q3")
    inner = alt.Chart(ldf).mark_rule(strokeWidth=1, strokeDash=[2, 1]).encode(
        x=X("x"), y=Y("q1"), y2="q3", color=alt.Color("ic:N", scale=None))
    pdf = pd.DataFrame({"x": [1, 2], "t": p_texts})
    pp = alt.Chart(pdf).mark_text(text="P", fontStyle="italic", align="left", dx=-40,
                                  fontSize=14.5, font=FONT).encode(x=X("x"), y=alt.value(Tp + p_y))
    pt = alt.Chart(pdf).mark_text(align="left", dx=-25, fontSize=14.5, font=FONT).encode(
        x=X("x"), y=alt.value(Tp + p_y), text="t:N")
    mdf = pd.DataFrame({"x": DE_CENTERS[1:], "t": means[1:]})
    mt = alt.Chart(mdf).mark_text(fontSize=10.5, font=FONT).encode(
        x=X("x"), y=alt.value(Tp + mean_y), text="t:N")
    mt0 = alt.Chart(pd.DataFrame({"x": DE_CENTERS[:1], "t": means[:1]})).mark_text(
        fontSize=10.5, font=FONT, dx=-12).encode(x=X("x"), y=alt.value(Tp + mean_y), text="t:N")
    gl1 = alt.Chart(pd.DataFrame({"x": [1], "t": [glabels[0]]})).mark_text(
        fontSize=14.5, font=FONT, color="#222222", dx=lab_dx[0]).encode(
        x=X("x"), y=alt.value(Tp + h + 16), text="t:N")
    gl2 = alt.Chart(pd.DataFrame({"x": [2], "t": [glabels[1]]})).mark_text(
        fontSize=14.5, font=FONT, color="#222222", dx=lab_dx[1]).encode(
        x=X("x"), y=alt.value(Tp + h + 16), text="t:N")
    layers = [frame(fw, fh)] + list(deco) + [vio, stem, box, inner, pp, pt, mt, mt0, gl1, gl2,
                                             T(gene, L + 123, Tp + gene_y, size=14.5, style="italic"),
                                             T(letter, 7, 12, size=19, weight="bold")]
    return alt.layer(*layers).properties(width=fw, height=fh)


# pink frame round D/E and the dashed links coming down from panel C (cell pixels)
D_DECO = [prule(76, 420, 26, 26), prule(76, 76, 26, 208), prule(420, 420, 26, 208),
          prule(440, 440, 0, 208, [5, 3]), prule(427, 427, 0, 123, [5, 3]),
          prule(420, 427, 123, 123, [5, 3]),
          T("K", 460, 120, size=19, weight="bold")]
E_DECO = [prule(76, 76, 0, 220), prule(420, 420, 0, 220), prule(76, 420, 220, 220),
          prule(76, 420, 10, 10, [5, 3]),
          prule(440, 440, 0, 120, [5, 3]), prule(420, 440, 120, 120, [5, 3])]

panelD = de_panel("D", 78, 208, D_GENE, -35, D_PVALS, -13, D_MEANS, 8, D_LABELS, (0, 17), (-3.3, 3.32), 103,
                  D_Y, D_W, D_BOX, False, D_DECO)
panelE = de_panel("E", 57, 221, E_GENE, -37, E_PVALS, -15, E_MEANS, 6, E_LABELS, (-14, 24), (-3.22, 3.29), 100,
                  E_Y, E_W, E_BOX, True, E_DECO)

LD_DOT = ellipse_path(0.72, 90, 24)


# ============================ K ============================
def k_panel():
    W, Hh = 726, 330
    xs = qs(475, 1201, (0, W))
    ys = qs(776, 1106, (0, Hh))
    KX = lambda f: alt.X(f + ":Q", scale=xs, axis=None)
    KY = lambda f: alt.Y(f + ":Q", scale=ys, axis=None)
    rects, dots, texts, solid, dashed, heads_r, heads_d, arcs = [], [], [], [], [], [], [], []
    for p in range(4):
        x0, ly, ld, td = K_X0[p], K_LINE_Y[p], K_LD_TOP[p], K_TAD_TOP[p]
        rects += [(x0, x0 + 199, ld, ld + 19, "#ffffff", "#333333"),
                  (x0 + 202, x0 + 245, ld, ld + 19, "#ffffff", "#333333"),
                  (x0, x0 + 159.5, td, td + 26.7, TAD1_COL, "#333333"),
                  (x0 + 159.5, x0 + 245, td, td + 26.7, TAD2_COL, "#333333"),
                  (K_GENE_X0[p], K_GENE_X1[p], ly - 3.5, ly + 3.5, GENE_COL, GENE_COL)]
        for d in K_LD_DOTS:
            dots.append((x0 + d, ld + 9.5))
        texts += [(K_TITLES[p], K_TITLE_X[p], K_TITLE_Y[p]), ("TAD1", x0 + 80, td + 13.3),
                  ("TAD2", x0 + 202, td + 13.3)]
        solid += [(K_LINE_X0[p], K_GENE_X0[p], ly, ly),
                  (K_PROM_X0[p], K_PROM_X0[p], ly - 3.5, ly - 11.5),
                  (K_PROM_X0[p], K_PROM_X1[p] - 3, ly - 11.5, ly - 11.5)]
        dashed.append((K_GENE_X1[p], K_LINE_X1[p], ly, ly))
        heads_r.append((K_PROM_X1[p], ly - 11.5))
        heads_d.append((K_ARC_X[p][-1], K_ARC_Y[p][-1] + 1))
        for o, (ax_, ay_) in enumerate(zip(K_ARC_X[p], K_ARC_Y[p])):
            arcs.append({"id": p, "o": o, "x": ax_, "y": ay_})
    rects += [(1100.5, 1143.7, 1061, 1071, GENE_COL, GENE_COL),
              (906, 958.4, 1082, 1104.5, "#ffffff", "#111111"),
              (1095.7, 1148, 1082, 1104.5, "#ffffff", "#111111")]
    solid += [(1110, 1110, 1061, 1052), (1110, 1122.5, 1052, 1052)]
    heads_r.append((1125.5, 1052))
    dots += [(1111, 1094), (1116, 1094), (1132.7, 1094)]
    texts.append(("TAD2", 932.2, 1093.5))
    ltexts = [("eCRE:", 856.6, 1065), ("perturbGene:", 975.6, 1065), ("TAD:", 856.6, 1093),
              ("LD block (R\u00b2=1):", 975.6, 1093)]
    ecre = [(x, y) for x, y in zip(K_ECRE_X, K_LINE_Y)] + [(932.4, 1065)]

    rdf = pd.DataFrame(rects, columns=["x", "x2", "y", "y2", "f", "s"])
    l_rect = alt.Chart(rdf).mark_rect(strokeWidth=1.2).encode(
        x=KX("x"), x2="x2", y=KY("y"), y2="y2", fill=alt.Fill("f:N", scale=None),
        stroke=alt.Stroke("s:N", scale=None))
    sdf = pd.DataFrame(solid, columns=["x", "x2", "y", "y2"])
    l_solid = alt.Chart(sdf).mark_rule(color="#333333", strokeWidth=1.1).encode(
        x=KX("x"), x2="x2", y=KY("y"), y2="y2")
    ddf = pd.DataFrame(dashed, columns=["x", "x2", "y", "y2"])
    l_dash = alt.Chart(ddf).mark_rule(color="#333333", strokeWidth=1.1, strokeDash=[2, 1.5]).encode(
        x=KX("x"), x2="x2", y=KY("y"), y2="y2")
    l_arc = alt.Chart(pd.DataFrame(arcs)).mark_line(
        color="#222222", strokeWidth=1, interpolate="basis").encode(
        x=KX("x"), y=KY("y"), detail="id:N", order="o:Q")
    l_hr = alt.Chart(pd.DataFrame(heads_r, columns=["x", "y"])).mark_point(
        shape="triangle-right", filled=True, color="#222222", size=14, opacity=1).encode(
        x=KX("x"), y=KY("y"))
    l_hd = alt.Chart(pd.DataFrame(heads_d, columns=["x", "y"])).mark_point(
        shape="triangle-down", filled=True, color="#222222", size=16, opacity=1).encode(
        x=KX("x"), y=KY("y"))
    l_dots = alt.Chart(pd.DataFrame(dots, columns=["x", "y"])).mark_point(
        shape=LD_DOT, filled=True, color="#000000", size=56, opacity=1,
        strokeWidth=0).encode(x=KX("x"), y=KY("y"))
    l_ecre = alt.Chart(pd.DataFrame(ecre, columns=["x", "y"])).mark_circle(
        color=ECRE_COL, size=28, opacity=1).encode(x=KX("x"), y=KY("y"))
    l_txt = alt.Chart(pd.DataFrame(texts, columns=["t", "x", "y"])).mark_text(
        font=NARROW, fontSize=14.5, color="#111111").encode(x=KX("x"), y=KY("y"), text="t:N")
    l_ltxt = alt.Chart(pd.DataFrame(ltexts, columns=["t", "x", "y"])).mark_text(
        font=NARROW, fontSize=14.5, color="#111111", align="left").encode(
        x=KX("x"), y=KY("y"), text="t:N")
    return alt.layer(frame(W, Hh), l_rect, l_solid, l_dash, l_arc, l_hr, l_hd, l_dots,
                     l_ecre, l_txt, l_ltxt).properties(width=W, height=Hh)


panelK = k_panel()

# ============================ LAYOUT ============================
leftcol = VC(HC(panelA, panelB), panelC, panelD, panelE)
rightcol = VC(HC(panelF, panelG, panelJ), HC(panelH1, panelH2, panelI1, panelI2), panelK)

chart = HC(leftcol, rightcol).properties(padding=0).configure(font=FONT).configure_view(stroke=None)
chart.save("out.html", embed_options={"renderer": "svg", "actions": False})
